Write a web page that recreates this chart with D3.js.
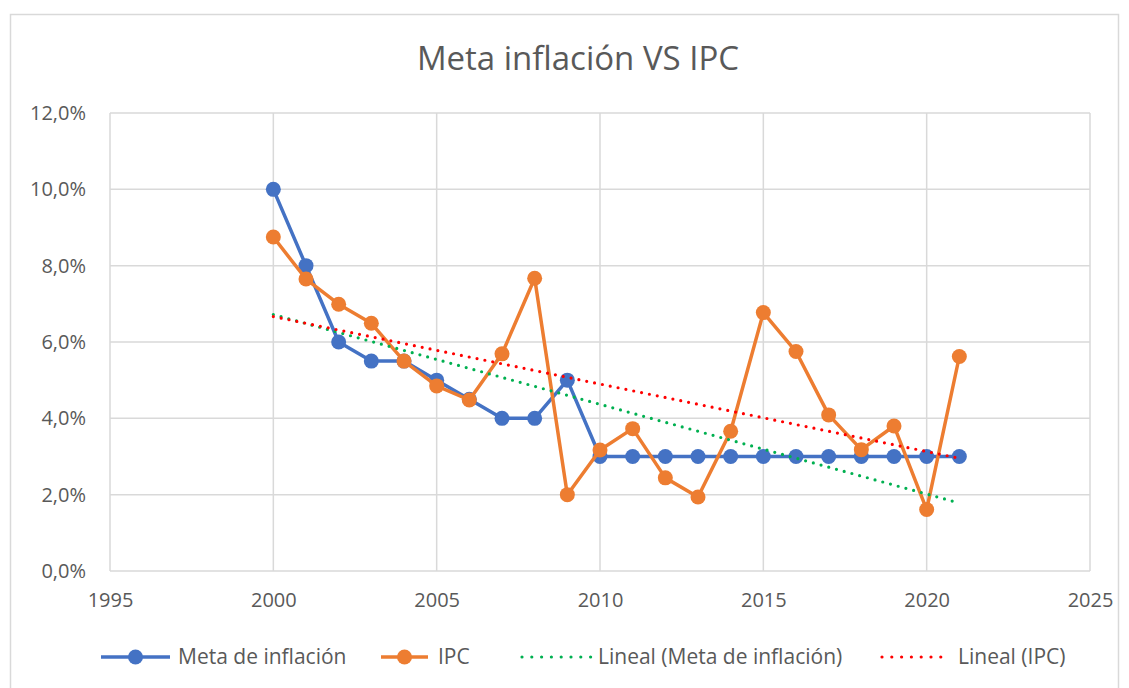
<!DOCTYPE html>
<html>
<head>
<meta charset="utf-8">
<script src="https://cdn.jsdelivr.net/npm/d3@7"></script>
<style>
  body { margin: 0; background: #fff; }
  text { font-family: "Open Sans", sans-serif; fill: #595959; }
</style>
</head>
<body>
<script>
// data
var years = [2000, 2001, 2002, 2003, 2004, 2005, 2006, 2007, 2008, 2009, 2010,
             2011, 2012, 2013, 2014, 2015, 2016, 2017, 2018, 2019, 2020, 2021];
var metaValues = [10, 8, 6, 5.5, 5.5, 5, 4.5, 4, 4, 5, 3,
                  3, 3, 3, 3, 3, 3, 3, 3, 3, 3, 3];
var ipcValues = [8.75, 7.65, 6.99, 6.49, 5.50, 4.85, 4.48, 5.69, 7.67, 2.00, 3.17,
                 3.73, 2.44, 1.94, 3.66, 6.77, 5.75, 4.09, 3.18, 3.80, 1.61, 5.62];
var xTicks = [1995, 2000, 2005, 2010, 2015, 2020, 2025];
var yTicks = [0, 2, 4, 6, 8, 10, 12];

// set up variables
var width = 1129, height = 688,
    plot = {left: 110, right: 1090, top: 113, bottom: 571};

var svg = d3.select("body")
    .append("svg")
        .attr("width", width)
        .attr("height", height);

// chart border
svg.append("rect")
    .attr("x", 10.5).attr("y", 14.5)
    .attr("width", 1108).attr("height", 700)
    .attr("fill", "none")
    .attr("stroke", "#d9d9d9")
    .attr("stroke-width", 1.5);

var x = d3.scaleLinear().domain([1995, 2025]).range([plot.left, plot.right]);
var y = d3.scaleLinear().domain([0, 12]).range([plot.bottom, plot.top]);

// gridlines
svg.append("g").selectAll("line")
    .data(yTicks).enter().append("line")
    .attr("x1", plot.left).attr("x2", plot.right)
    .attr("y1", function(d) { return y(d); })
    .attr("y2", function(d) { return y(d); })
    .attr("stroke", "#d9d9d9").attr("stroke-width", 1.5);

svg.append("g").selectAll("line")
    .data(xTicks).enter().append("line")
    .attr("x1", function(d) { return x(d); })
    .attr("x2", function(d) { return x(d); })
    .attr("y1", plot.top).attr("y2", plot.bottom)
    .attr("stroke", "#d9d9d9").attr("stroke-width", 1.5);

// axes (labels only, Excel style)
var fmt = function(d) { return d.toFixed(1).replace(".", ",") + "%"; };

var yAxis = svg.append("g")
    .attr("transform", "translate(" + (plot.left - 24) + ",0)")
    .call(d3.axisLeft(y).tickValues(yTicks).tickFormat(fmt).tickSize(0).tickPadding(0));
var xAxis = svg.append("g")
    .attr("transform", "translate(0," + (plot.bottom + 22) + ")")
    .call(d3.axisBottom(x).tickValues(xTicks).tickFormat(d3.format("d")).tickSize(0).tickPadding(0));

[yAxis, xAxis].forEach(function(a) {
    a.select(".domain").remove();
    a.selectAll("text")
        .attr("fill", "#595959")
        .style("font-size", "20px")
        .style("font-family", "'Open Sans', sans-serif");
});

// series
var series = [
    {name: "Meta de inflación", values: metaValues, color: "#4472c4"},
    {name: "IPC", values: ipcValues, color: "#ed7d31"}
];

var line = d3.line()
    .x(function(d) { return x(d[0]); })
    .y(function(d) { return y(d[1]); });

series.forEach(function(s) {
    var pts = years.map(function(yr, i) { return [yr, s.values[i]]; });
    var g = svg.append("g");
    g.append("path")
        .datum(pts)
        .attr("d", line)
        .attr("fill", "none")
        .attr("stroke", s.color)
        .attr("stroke-width", 3.5)
        .attr("stroke-linejoin", "round");
    g.selectAll("circle")
        .data(pts).enter().append("circle")
        .attr("cx", function(d) { return x(d[0]); })
        .attr("cy", function(d) { return y(d[1]); })
        .attr("r", 7.5)
        .attr("fill", s.color);
});

// linear trend lines (least squares on each series)
function linearFit(xs, ys) {
    var mx = d3.mean(xs), my = d3.mean(ys);
    var num = d3.sum(xs, function(v, i) { return (v - mx) * (ys[i] - my); });
    var den = d3.sum(xs, function(v) { return (v - mx) * (v - mx); });
    var b = num / den;
    return function(v) { return my + b * (v - mx); };
}

var trends = [
    {name: "Lineal (Meta de inflación)", values: metaValues, color: "#00b050"},
    {name: "Lineal (IPC)", values: ipcValues, color: "#ff0000"}
];

trends.forEach(function(t) {
    var f = linearFit(years, t.values);
    var x0 = years[0], x1 = years[years.length - 1];
    svg.append("line")
        .attr("x1", x(x0)).attr("y1", y(f(x0)))
        .attr("x2", x(x1)).attr("y2", y(f(x1)))
        .attr("stroke", t.color)
        .attr("stroke-width", 3.2)
        .attr("stroke-linecap", "round")
        .attr("stroke-dasharray", "0,8");
});

// title
svg.append("text")
    .attr("x", 578)
    .attr("y", 70)
    .attr("text-anchor", "middle")
    .style("font-size", "33px")
    .text("Meta inflación VS IPC");

// legend
var legendY = 657;
var legendItems = [
    {name: series[0].name, color: series[0].color, x0: 101, x1: 170, text: 178, marker: true},
    {name: series[1].name, color: series[1].color, x0: 381, x1: 428, text: 438, marker: true},
    {name: trends[0].name, color: trends[0].color, x0: 522, x1: 591, text: 598, marker: false},
    {name: trends[1].name, color: trends[1].color, x0: 882, x1: 950, text: 958, marker: false}
];

legendItems.forEach(function(d) {
    var g = svg.append("g");
    if (d.marker) {
        g.append("line")
            .attr("x1", d.x0).attr("x2", d.x1)
            .attr("y1", legendY).attr("y2", legendY)
            .attr("stroke", d.color).attr("stroke-width", 3.5);
        g.append("circle")
            .attr("cx", (d.x0 + d.x1) / 2).attr("cy", legendY)
            .attr("r", 7.5).attr("fill", d.color);
    } else {
        g.append("line")
            .attr("x1", d.x0).attr("x2", d.x1)
            .attr("y1", legendY).attr("y2", legendY)
            .attr("stroke", d.color).attr("stroke-width", 3.2)
            .attr("stroke-linecap", "round")
            .attr("stroke-dasharray", "0,9.8");
    }
    g.append("text")
        .attr("x", d.text)
        .attr("y", legendY + 7)
        .style("font-size", "21px")
        .text(d.name);
});
</script>
</body>
</html>
